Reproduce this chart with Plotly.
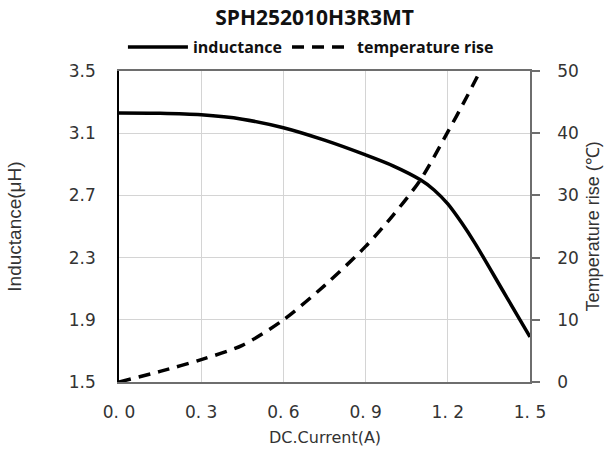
import plotly.graph_objects as go

current_L = [0, 0.15, 0.3, 0.45, 0.6, 0.75, 0.9, 1.0, 1.1, 1.15, 1.2, 1.25, 1.3, 1.4, 1.5]
inductance = [3.23, 3.228, 3.218, 3.19, 3.135, 3.055, 2.96, 2.89, 2.80, 2.735, 2.645, 2.525, 2.39, 2.09, 1.79]

current_T = [0, 0.15, 0.3, 0.45, 0.6, 0.75, 0.9, 1.0, 1.1, 1.2, 1.27, 1.318]
temp_rise = [0, 1.7, 3.6, 5.9, 10, 15.5, 21.8, 26.8, 32.5, 40.2, 45.9, 50]

x_ticks = [0, 0.3, 0.6, 0.9, 1.2, 1.5]
x_labels = ["0.\u00a00", "0.\u00a03", "0.\u00a06", "0.\u00a09", "1.\u00a02", "1.\u00a05"]
yL_ticks = [1.5, 1.9, 2.3, 2.7, 3.1, 3.5]
yT_ticks = [0, 10, 20, 30, 40, 50]

fig = go.Figure()
fig.add_trace(go.Scatter(x=current_L, y=inductance, name="inductance", mode="lines",
                         line=dict(color="black", width=3.5, shape="spline", smoothing=0.8), yaxis="y"))
fig.add_trace(go.Scatter(x=current_T, y=temp_rise, name="temperature rise", mode="lines",
                         line=dict(color="black", width=3.5, shape="spline", smoothing=0.8,
                                   dash="12px,8px"), yaxis="y2"))

tickfont = dict(family="DejaVu Sans", size=17, color="#333333")
fig.update_layout(
    width=605, height=452,
    margin=dict(l=119, r=75, t=71, b=70, autoexpand=False),
    plot_bgcolor="white", paper_bgcolor="white",
    title=dict(text="<b>SPH252010H3R3MT</b>", x=0.52, xanchor="center", y=0.96, yanchor="middle",
               font=dict(family="Open Sans", size=21, color="#111111")),
    showlegend=True,
    legend=dict(orientation="h", x=0.467, xanchor="center", y=1.077, yanchor="middle",
                font=dict(family="Open Sans", size=16, color="#111111", weight="bold"),
                itemwidth=60, bgcolor="rgba(0,0,0,0)", tracegroupgap=0),
    xaxis=dict(range=[0, 1.5], tickvals=x_ticks, ticktext=x_labels, tickfont=tickfont,
               showgrid=True, gridcolor="#d4d4d4", gridwidth=1,
               showline=True, linecolor="#6e6e6e", linewidth=1.5, mirror=True,
               ticks="", ticklabelstandoff=14, zeroline=False),
    yaxis=dict(range=[1.5, 3.5], tickvals=yL_ticks, ticktext=[f"{v:.1f}" for v in yL_ticks],
               tickfont=tickfont, showgrid=True, gridcolor="#d4d4d4", gridwidth=1,
               showline=True, linecolor="black", linewidth=1.5, ticks="",
               ticklabelstandoff=18, zeroline=False),
    yaxis2=dict(range=[0, 50], tickvals=yT_ticks, overlaying="y", side="right",
                tickfont=tickfont, showgrid=False, showline=True, linecolor="#6e6e6e",
                linewidth=1.5, ticks="outside", ticklen=8, tickcolor="#6e6e6e", tickwidth=1.5,
                ticklabelstandoff=14, zeroline=False),
    annotations=[
        dict(text="DC.Current(A)", xref="paper", yref="paper", x=0.5, y=-0.177,
             xanchor="center", yanchor="middle", showarrow=False,
             font=dict(family="DejaVu Sans", size=16, color="#333333")),
        dict(text="Inductance(μH)", xref="paper", yref="paper", x=-0.255, y=0.5,
             xanchor="center", yanchor="middle", textangle=-90, showarrow=False,
             font=dict(family="Liberation Sans Narrow, Liberation Sans", size=19, color="#333333")),
        dict(text="Temperature rise (℃)", xref="paper", yref="paper", x=1.153, y=0.5,
             xanchor="center", yanchor="middle", textangle=-90, showarrow=False,
             font=dict(family="Liberation Sans Narrow, Liberation Sans", size=18, color="#333333")),
    ],
)

fig.write_html("out.html", config={"displayModeBar": False},
               post_script="document.body.style.margin='0';document.body.style.overflow='hidden';")
